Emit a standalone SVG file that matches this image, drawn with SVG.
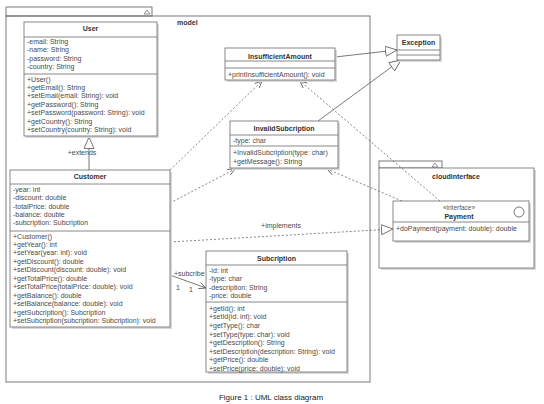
<svg xmlns="http://www.w3.org/2000/svg" width="544" height="404" viewBox="0 0 544 404">
<style>
text{font-family:"Liberation Sans",Arial,sans-serif;font-size:7px;fill:#4a4a4a}
.t{font-weight:bold;text-anchor:middle;fill:#333}
.b{fill:#fff;stroke:#6a6a6a;stroke-width:0.8}
.sh{fill:#d8d8d8}
.sep{stroke:#6a6a6a;stroke-width:0.8}
.pk{fill:none;stroke:#6a6a6a;stroke-width:0.9}
.ln{fill:none;stroke:#555;stroke-width:0.8}
.dl{fill:none;stroke:#666;stroke-width:0.8;stroke-dasharray:2,2}
</style>
<defs>
<marker id="tri" markerUnits="userSpaceOnUse" markerWidth="14" markerHeight="12" refX="12" refY="5.5" orient="auto">
<path d="M0.5,0.5 L12,5.5 L0.5,10.5 Z" fill="#fff" stroke="#555" stroke-width="0.8"/>
</marker>
<marker id="open" markerUnits="userSpaceOnUse" markerWidth="9" markerHeight="8" refX="7.5" refY="4" orient="auto">
<path d="M0.5,0.8 L7.5,4 L0.5,7.2" fill="none" stroke="#555" stroke-width="0.8"/>
</marker>
</defs>
<rect width="544" height="404" fill="#fff"/>

<g id="model">
<rect class="pk" x="6" y="7" width="146" height="9"/>
<path d="M144,14 L147,10 L150,14 Z" fill="none" stroke="#666" stroke-width="0.7"/>
<rect class="pk" x="6" y="16" width="364" height="366"/>
<text x="177" y="25" style="font-weight:bold;fill:#333">model</text>
</g>

<g id="cloudinterface">
<rect class="pk" x="379" y="161" width="63" height="7"/>
<path d="M432,167 L435,163 L438,167 Z" fill="none" stroke="#666" stroke-width="0.7"/>
<rect class="sh" x="381" y="170" width="155" height="100"/>
<rect class="b" x="379" y="168" width="155" height="100"/>
<text class="t" x="456" y="178.5">cloudinterface</text>
</g>

<g id="connectors">
<line class="ln" x1="89" y1="170" x2="89" y2="137" marker-end="url(#tri)"/>
<line class="ln" x1="335" y1="57" x2="397" y2="50" marker-end="url(#tri)"/>
<line class="ln" x1="318" y1="121" x2="401" y2="60" marker-end="url(#tri)"/>
<line class="dl" x1="170" y1="242" x2="393" y2="229" marker-end="url(#tri)"/>
<line class="dl" x1="170" y1="170" x2="262" y2="81" marker-end="url(#open)"/>
<line class="dl" x1="170" y1="203" x2="235" y2="169" marker-end="url(#open)"/>
<line class="dl" x1="440" y1="201" x2="300" y2="81" marker-end="url(#open)"/>
<line class="dl" x1="402" y1="201" x2="327" y2="169" marker-end="url(#open)"/>
<line class="ln" x1="170" y1="275" x2="206" y2="288" marker-end="url(#open)"/>
<text x="82" y="154.5" text-anchor="middle">+extends</text>
<text x="281" y="227.5" text-anchor="middle">+implements</text>
<text x="174" y="276">+subcribe</text>
<text x="176" y="290">1</text>
<text x="189" y="292">1</text>
</g>

<g id="User">
<rect class="sh" x="26" y="24" width="133" height="114"/>
<rect class="b" x="24" y="22" width="133" height="114"/>
<text class="t" x="90.5" y="30.5">User</text>
<line class="sep" x1="24" y1="37" x2="157" y2="37"/>
<text x="27" y="44">-email: String</text>
<text x="27" y="52.4">-name: String</text>
<text x="27" y="60.8">-password: String</text>
<text x="27" y="69.2">-country: String</text>
<line class="sep" x1="24" y1="74" x2="157" y2="74"/>
<text x="27" y="81.5">+User()</text>
<text x="27" y="89.9">+getEmail(): String</text>
<text x="27" y="98.3">+setEmail(email: String): void</text>
<text x="27" y="106.7">+getPassword(): String</text>
<text x="27" y="115.1">+setPassword(password: String): void</text>
<text x="27" y="123.5">+getCountry(): String</text>
<text x="27" y="131.9">+setCountry(country: String): void</text>
</g>

<g id="Customer">
<rect class="sh" x="12" y="172" width="160" height="157"/>
<rect class="b" x="10" y="170" width="160" height="157"/>
<text class="t" x="90" y="178.5">Customer</text>
<line class="sep" x1="10" y1="184" x2="170" y2="184"/>
<text x="13" y="191.8">-year: int</text>
<text x="13" y="200.15">-discount: double</text>
<text x="13" y="208.5">-totalPrice: double</text>
<text x="13" y="216.85">-balance: double</text>
<text x="13" y="225.2">-subcription: Subcription</text>
<line class="sep" x1="10" y1="231" x2="170" y2="231"/>
<text x="13" y="238.5">+Customer()</text>
<text x="13" y="246.95">+getYear(): int</text>
<text x="13" y="255.4">+setYear(year: int): void</text>
<text x="13" y="263.85">+getDiscount(): double</text>
<text x="13" y="272.3">+setDiscount(discount: double): void</text>
<text x="13" y="280.75">+getTotalPrice(): double</text>
<text x="13" y="289.2">+setTotalPrice(totalPrice: double): void</text>
<text x="13" y="297.65">+getBalance(): double</text>
<text x="13" y="306.1">+setBalance(balance: double): void</text>
<text x="13" y="314.55">+getSubcription(): Subcription</text>
<text x="13" y="323">+setSubcription(subcription: Subcription): void</text>
</g>

<g id="InsufficientAmount">
<rect class="sh" x="227" y="50" width="110" height="32"/>
<rect class="b" x="225" y="48" width="110" height="32"/>
<text class="t" x="280" y="58.5">InsufficientAmount</text>
<line class="sep" x1="225" y1="61" x2="335" y2="61"/>
<line class="sep" x1="225" y1="68" x2="335" y2="68"/>
<text x="228" y="76.5">+printInsufficientAmount(): void</text>
</g>

<g id="InvalidSubcription">
<rect class="sh" x="232" y="123" width="108" height="47"/>
<rect class="b" x="230" y="121" width="108" height="47"/>
<text class="t" x="284" y="130.5">InvalidSubcription</text>
<line class="sep" x1="230" y1="135" x2="338" y2="135"/>
<text x="233" y="142.5">-type: char</text>
<line class="sep" x1="230" y1="146" x2="338" y2="146"/>
<text x="233" y="155">+InvalidSubcription(type: char)</text>
<text x="233" y="163.5">+getMessage(): String</text>
</g>

<g id="Exception">
<rect class="sh" x="399" y="37" width="43" height="25"/>
<rect class="b" x="397" y="35" width="43" height="25"/>
<text class="t" x="418.5" y="44.5">Exception</text>
<line class="sep" x1="397" y1="50" x2="440" y2="50"/>
<line class="sep" x1="397" y1="55" x2="440" y2="55"/>
</g>

<g id="Payment">
<rect class="sh" x="395" y="203" width="136" height="40"/>
<rect class="b" x="393" y="201" width="136" height="40"/>
<text x="459" y="209.5" text-anchor="middle" style="font-size:6.5px;fill:#555">«interface»</text>
<text class="t" x="459" y="218.5">Payment</text>
<circle cx="519" cy="212" r="5" fill="#fff" stroke="#555" stroke-width="0.8"/>
<line class="sep" x1="393" y1="222" x2="529" y2="222"/>
<text x="396" y="231">+doPayment(payment: double): double</text>
</g>

<g id="Subcription">
<rect class="sh" x="208" y="253" width="141" height="121"/>
<rect class="b" x="206" y="251" width="141" height="121"/>
<text class="t" x="276.5" y="260.5">Subcription</text>
<line class="sep" x1="206" y1="265" x2="347" y2="265"/>
<text x="209" y="272.5">-id: int</text>
<text x="209" y="281">-type: char</text>
<text x="209" y="289.5">-description: String</text>
<text x="209" y="298">-price: double</text>
<line class="sep" x1="206" y1="302" x2="347" y2="302"/>
<text x="209" y="310.8">+getId(): int</text>
<text x="209" y="319.37">+setId(id: int): void</text>
<text x="209" y="327.94">+getType(): char</text>
<text x="209" y="336.51">+setType(type: char): void</text>
<text x="209" y="345.08">+getDescription(): String</text>
<text x="209" y="353.65">+setDescription(description: String): void</text>
<text x="209" y="362.22">+getPrice(): double</text>
<text x="209" y="370.79">+setPrice(price: double): void</text>
</g>

<text x="271" y="399.5" text-anchor="middle" style="font-size:8px;fill:#222">Figure 1 : UML class diagram</text>
</svg>
